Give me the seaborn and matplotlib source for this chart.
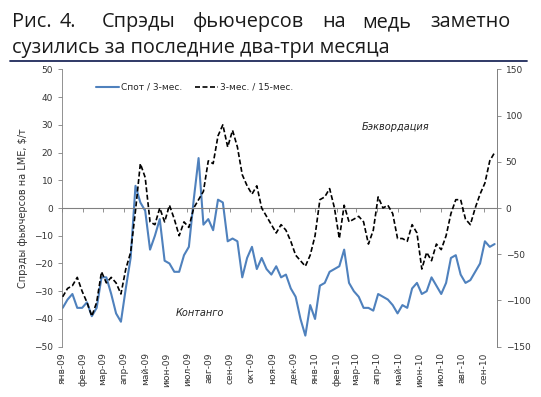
import matplotlib
matplotlib.use('Agg')
import matplotlib.pyplot as plt
import pandas as pd
import seaborn as sns
import numpy as np

# weekly readings, Jan 2009 - Sep 2010
spot_3m = [-36, -33, -31, -36, -36, -34, -39, -36, -25, -25,
           -31, -38, -41, -29, -18, 8, 2, -1, -15, -10,
           -4, -19, -20, -23, -23, -17, -14, 3, 18, -6,
           -4, -8, 3, 2, -12, -11, -12, -25, -18, -14,
           -22, -18, -22, -24, -21, -25, -24, -29, -32, -40,
           -46, -35, -40, -28, -27, -23, -22, -21, -15, -27,
           -30, -32, -36, -36, -37, -31, -32, -33, -35, -38,
           -35, -36, -29, -27, -31, -30, -25, -28, -31, -27,
           -18, -17, -24, -27, -26, -23, -20, -12, -14, -13]
# 3m/15m spread, right axis units
m3_15m = [-96, -87, -84, -75, -90, -102, -117, -102, -69, -81,
          -75, -81, -93, -66, -48, -3, 48, 33, -15, -18,
          0, -15, 3, -12, -30, -15, -21, 0, 9, 18,
          51, 48, 78, 90, 66, 84, 66, 36, 24, 15,
          24, 0, -9, -18, -27, -18, -24, -36, -51, -57,
          -63, -51, -30, 9, 12, 21, 0, -33, 3, -15,
          -12, -9, -15, -39, -24, 12, 0, 3, -6, -33,
          -33, -36, -18, -27, -66, -48, -57, -39, -45, -30,
          -6, 9, 9, -12, -18, 0, 15, 27, 51, 60]
month_names = ['янв', 'фев', 'мар', 'апр', 'май', 'июн', 'июл', 'авг', 'сен',
               'окт', 'ноя', 'дек']

dates = pd.date_range('2009-01-02', periods=len(spot_3m), freq='7D')
df = pd.DataFrame({'date': dates, 'spot': spot_3m, 'long': m3_15m})
months = pd.date_range('2009-01-01', '2010-09-01', freq='MS')
month_labels = [month_names[d.month - 1] + '-' + d.strftime('%y') for d in months]

sns.set_style('white')
plt.rcParams['font.family'] = ['DejaVu Sans']

fig = plt.figure(figsize=(5.41, 3.97), dpi=100)
ax = fig.add_axes([0.1146, 0.1267, 0.8035, 0.6987])
ax2 = ax.twinx()

sns.lineplot(data=df, x='date', y='spot', ax=ax, color='#4F81BD', linewidth=1.5,
             label='Спот / 3-мес.', legend=False)
sns.lineplot(data=df, x='date', y='long', ax=ax2, color='black', linewidth=1.2,
             linestyle=(0, (3, 1.5)), label='3-мес. / 15-мес.', legend=False)

ax.set_ylim(-50, 50)
ax2.set_ylim(-150, 150)
ax.set_yticks(np.arange(-50, 51, 10))
ax2.set_yticks(np.arange(-150, 151, 50))
ax.set_xlim(pd.Timestamp('2009-01-01'), pd.Timestamp('2010-09-20'))

# zero line with small month ticks hanging below it
ax.axhline(0, color='#808080', linewidth=0.8)
sec = ax.secondary_xaxis(0.5)
sec.set_xticks(months)
sec.set_xticklabels([])
sec.tick_params(length=3, direction='in', color='#808080', width=0.6)
for s in sec.spines.values():
    s.set_visible(False)

ax.set_xticks(months)
ax.set_xticklabels(month_labels, rotation=90, fontsize=6.5, color='#333333')
ax.tick_params(axis='x', length=0, pad=4)
ax.tick_params(axis='y', labelsize=6.5, labelcolor='#333333', length=3, direction='out',
               color='#808080', width=0.6, left=True)
ax2.tick_params(axis='y', labelsize=6.5, labelcolor='#333333', length=3, direction='out',
                color='#808080', width=0.6, right=True)
ax.set_xlabel('')
ax.set_ylabel('Спрэды фьючерсов на LME, $/т', fontsize=7, color='#333333', labelpad=4)
ax2.set_ylabel('')

for a in (ax, ax2):
    a.spines['top'].set_visible(False)
    a.spines['bottom'].set_visible(False)
    a.spines['left'].set_color('#808080')
    a.spines['right'].set_color('#808080')
    a.spines['left'].set_linewidth(0.6)
    a.spines['right'].set_linewidth(0.6)
ax2.spines['left'].set_visible(False)

h1, l1 = ax.get_legend_handles_labels()
h2, l2 = ax2.get_legend_handles_labels()
ax.legend(h1 + h2, l1 + l2, loc='upper left', bbox_to_anchor=(0.06, 0.98), ncol=2,
          frameon=False, fontsize=6.5, handlelength=2.5, handletextpad=0.2,
          columnspacing=1.5)

ax.text(pd.Timestamp('2010-03-10'), 28, 'Бэквордация', fontsize=7, style='italic',
        color='#222222')
ax.text(pd.Timestamp('2009-06-14'), -39, 'Контанго', fontsize=7, style='italic',
        color='#222222')

# title, first line justified
words = ['Рис.', '4.', 'Спрэды', 'фьючерсов', 'на', 'медь', 'заметно']
xs = [12, 60, 102, 193, 322, 362, 430]
for w, x in zip(words, xs):
    fig.text(x / 541, 1 - 27 / 397, w, fontsize=14.3, family='Open Sans', color='#1a1a1a',
             va='baseline')
fig.text(12 / 541, 1 - 53 / 397, 'сузились за последние два-три месяца', fontsize=14.3,
         family='Open Sans', color='#1a1a1a', va='baseline')
fig.add_artist(plt.Line2D([10 / 541, 527 / 541], [1 - 61 / 397, 1 - 61 / 397],
                          color='#1f2a5a', linewidth=1.3))

fig.savefig('out.png', dpi=100)
